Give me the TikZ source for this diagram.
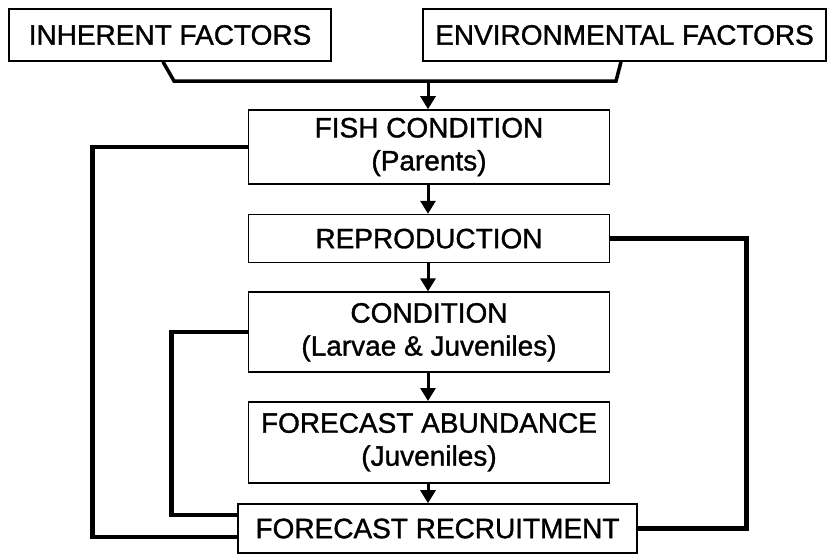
\documentclass[tikz,border=0pt]{standalone}
\usepackage{fontspec}
\setmainfont{Liberation Sans}[UprightFeatures={FakeBold=1.2}]
\usetikzlibrary{positioning,arrows.meta}

\begin{document}
\begin{tikzpicture}[
				x=1pt, y=-1pt,
				font=\fontsize{28}{33}\selectfont,
				block/.style={
					rectangle,
					draw,
					line width=1.6pt,
					align=center,
					inner sep=0pt,
					minimum width=361pt
					},
				line/.style={
					draw,
					line width=3pt,
					-{Triangle[length=13pt,width=15pt]}
					},
				bracket/.style={
					draw,
					line width=3.5pt
					},
				feedback/.style={
					draw,
					line width=4.5pt
					}]
			    \useasboundingbox (0,0) rectangle (828,555);
			    % Place nodes
			    \node [block, minimum width=322pt, minimum height=52pt] (inherent) at (170,35) {INHERENT FACTORS};
			    \node [block, minimum width=403pt, minimum height=52pt] (environ) at (624.5,35) {ENVIRONMENTAL FACTORS};
			    \node [block, minimum height=74pt] (fish) at (429,147) {FISH CONDITION\\(Parents)};
			    \node [block, below=29pt of fish, minimum height=48pt] (repro) {REPRODUCTION};
			    \node [block, below=28pt of repro, minimum height=80pt] (cond) {CONDITION\\(Larvae \& Juveniles)};
			    \node [block, below=28pt of cond, minimum height=81pt] (abund) {FORECAST ABUNDANCE\\(Juveniles)};
			    \node [block, minimum width=399pt, minimum height=49pt] (recruit) at (437.5,528.5) {FORECAST RECRUITMENT};

			    % Join of the two factors
			    \coordinate (joinl) at (174,81);
			    \coordinate (joinr) at (616,81);
			    \coordinate (join) at (428,81);

			    % Draw edges
			    \path [bracket] ([xshift=-7pt]inherent.south) -- (joinl) -- (joinr) -- ([xshift=-3.5pt]environ.south);
			    \path [line] (join) -- (join |- fish.north);
			    \path [line] (fish.south -| join) -- (join |- repro.north);
			    \path [line] (repro.south -| join) -- (join |- cond.north);
			    \path [line] (cond.south -| join) -- (join |- abund.north);
			    \path [line] (abund.south -| join) -- (join |- recruit.north);

			    % Feedback to recruitment
			    \path [feedback] (fish.west) -- ++(-155,0) |- ([yshift=-8.5pt]recruit.west);
			    \path [feedback] (cond.west) -- ++(-76,0) |- ([yshift=13.5pt]recruit.west);
			    \path [feedback] (repro.east) -- ++(136,0) |- (recruit.east);
			\end{tikzpicture}
\end{document}
